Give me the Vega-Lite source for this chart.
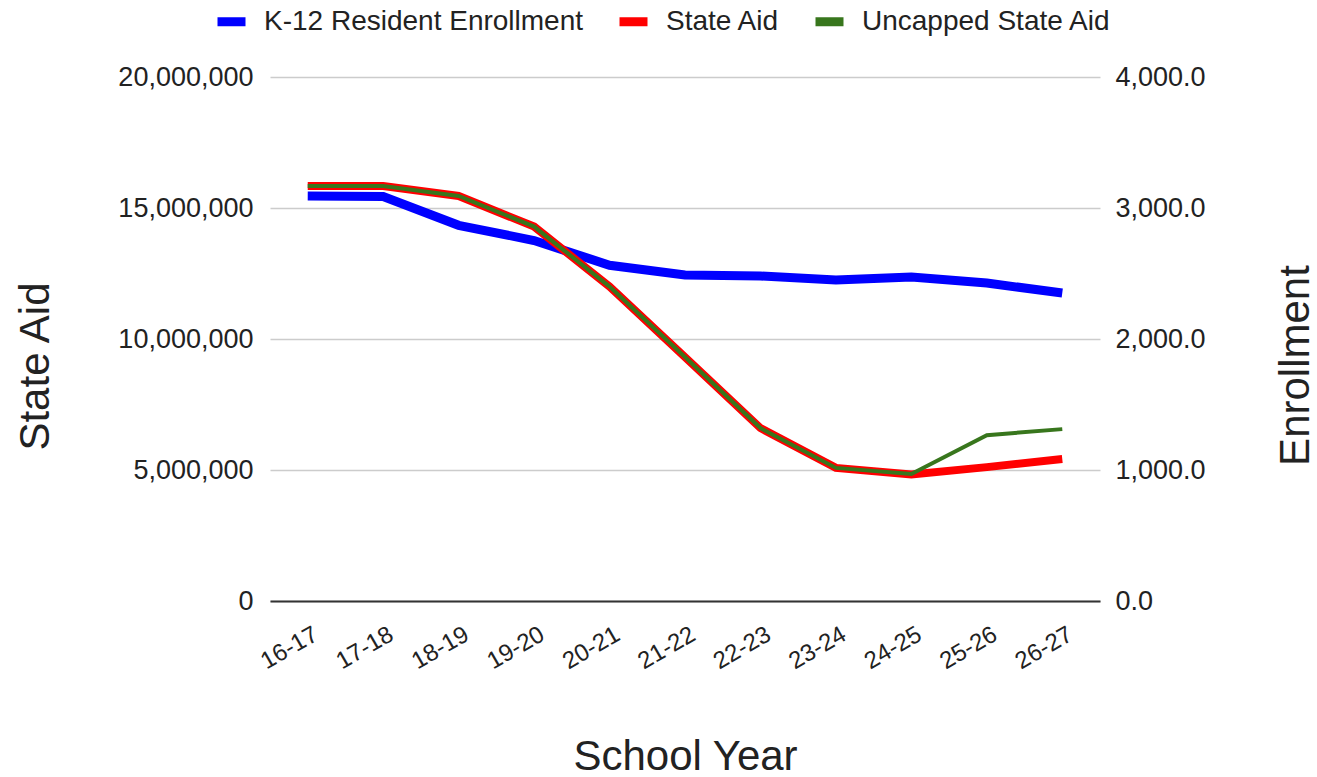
{
  "$schema": "https://vega.github.io/schema/vega-lite/v6.json",
  "autosize": {"type": "none"},
  "width": 830,
  "height": 524,
  "padding": {"left": 270, "top": 77, "right": 217, "bottom": 176},
  "background": "white",
  "config": {
    "font": "Liberation Sans",
    "view": {"stroke": null},
    "axis": {"labelColor": "#222", "titleColor": "#222", "titleFontWeight": "normal", "titleFontSize": 42, "labelFontSize": 27, "ticks": false, "domain": false},
    "legend": {"labelColor": "#222"}
  },
  "data": {
    "values": [
      {"year": "16-17", "series": "K-12 Resident Enrollment", "value": 3092},
      {"year": "17-18", "series": "K-12 Resident Enrollment", "value": 3088},
      {"year": "18-19", "series": "K-12 Resident Enrollment", "value": 2868},
      {"year": "19-20", "series": "K-12 Resident Enrollment", "value": 2752},
      {"year": "20-21", "series": "K-12 Resident Enrollment", "value": 2563},
      {"year": "21-22", "series": "K-12 Resident Enrollment", "value": 2489},
      {"year": "22-23", "series": "K-12 Resident Enrollment", "value": 2481},
      {"year": "23-24", "series": "K-12 Resident Enrollment", "value": 2450},
      {"year": "24-25", "series": "K-12 Resident Enrollment", "value": 2473},
      {"year": "25-26", "series": "K-12 Resident Enrollment", "value": 2427},
      {"year": "26-27", "series": "K-12 Resident Enrollment", "value": 2351},
      {"year": "16-17", "series": "State Aid", "value": 15840000},
      {"year": "17-18", "series": "State Aid", "value": 15840000},
      {"year": "18-19", "series": "State Aid", "value": 15460000},
      {"year": "19-20", "series": "State Aid", "value": 14290000},
      {"year": "20-21", "series": "State Aid", "value": 12000000},
      {"year": "21-22", "series": "State Aid", "value": 9310000},
      {"year": "22-23", "series": "State Aid", "value": 6600000},
      {"year": "23-24", "series": "State Aid", "value": 5080000},
      {"year": "24-25", "series": "State Aid", "value": 4830000},
      {"year": "25-26", "series": "State Aid", "value": 5110000},
      {"year": "26-27", "series": "State Aid", "value": 5420000},
      {"year": "16-17", "series": "Uncapped State Aid", "value": 15840000},
      {"year": "17-18", "series": "Uncapped State Aid", "value": 15840000},
      {"year": "18-19", "series": "Uncapped State Aid", "value": 15460000},
      {"year": "19-20", "series": "Uncapped State Aid", "value": 14290000},
      {"year": "20-21", "series": "Uncapped State Aid", "value": 12000000},
      {"year": "21-22", "series": "Uncapped State Aid", "value": 9310000},
      {"year": "22-23", "series": "Uncapped State Aid", "value": 6600000},
      {"year": "23-24", "series": "Uncapped State Aid", "value": 5080000},
      {"year": "24-25", "series": "Uncapped State Aid", "value": 4850000},
      {"year": "25-26", "series": "Uncapped State Aid", "value": 6330000},
      {"year": "26-27", "series": "Uncapped State Aid", "value": 6560000}
    ]
  },
  "encoding": {
    "x": {
      "field": "year", "type": "ordinal", "sort": null,
      "scale": {"type": "point", "padding": 0.5},
      "axis": {"title": "School Year", "titleFontSize": 42, "titleY": 168, "titleBaseline": "alphabetic", "labelAngle": -30, "labelAlign": "right", "labelBaseline": "top", "labelPadding": 21, "labelOffset": 2, "labelFontSize": 24, "domain": true, "domainColor": "#333", "domainWidth": 2, "zindex": 1}
    },
    "color": {
      "field": "series", "type": "nominal",
      "scale": {"domain": ["K-12 Resident Enrollment", "State Aid", "Uncapped State Aid"], "range": ["#0000ff", "#ff0000", "#38761d"]},
      "legend": {"title": null, "orient": "none", "legendX": -57, "legendY": -74, "direction": "horizontal", "labelFontSize": 28, "labelLimit": 600, "symbolType": "stroke", "symbolSize": 784, "symbolStrokeWidth": 9, "labelOffset": 14, "columnPadding": 17, "padding": 0}
    }
  },
  "layer": [
    {
      "transform": [{"filter": "datum.series == 'K-12 Resident Enrollment'"}],
      "mark": {"type": "line", "strokeWidth": 9},
      "encoding": {
        "y": {"field": "value", "type": "quantitative", "scale": {"domain": [0, 4000], "nice": false},
          "axis": {"orient": "right", "title": "Enrollment", "values": [0, 1000, 2000, 3000, 4000], "format": ",.1f", "grid": false, "labelPadding": 15, "titleAngle": -90, "titleX": 208, "titleY": 288, "titleBaseline": "alphabetic", "titleAlign": "center"}}
      }
    },
    {
      "transform": [{"filter": "datum.series == 'State Aid'"}],
      "mark": {"type": "line", "strokeWidth": 8},
      "encoding": {
        "y": {"field": "value", "type": "quantitative", "scale": {"domain": [0, 20000000], "nice": false},
          "axis": {"orient": "left", "title": "State Aid", "values": [0, 5000000, 10000000, 15000000, 20000000], "format": ",d", "grid": true, "gridColor": "#cccccc", "gridWidth": 1.5, "labelPadding": 17, "titleAngle": -90, "titleX": -222, "titleY": 289, "titleBaseline": "alphabetic", "titleAlign": "center"}}
      }
    },
    {
      "transform": [{"filter": "datum.series == 'Uncapped State Aid'"}],
      "mark": {"type": "line", "strokeWidth": 4},
      "encoding": {
        "y": {"field": "value", "type": "quantitative", "scale": {"domain": [0, 20000000], "nice": false}, "axis": null}
      }
    }
  ],
  "resolve": {"scale": {"y": "independent"}}
}
